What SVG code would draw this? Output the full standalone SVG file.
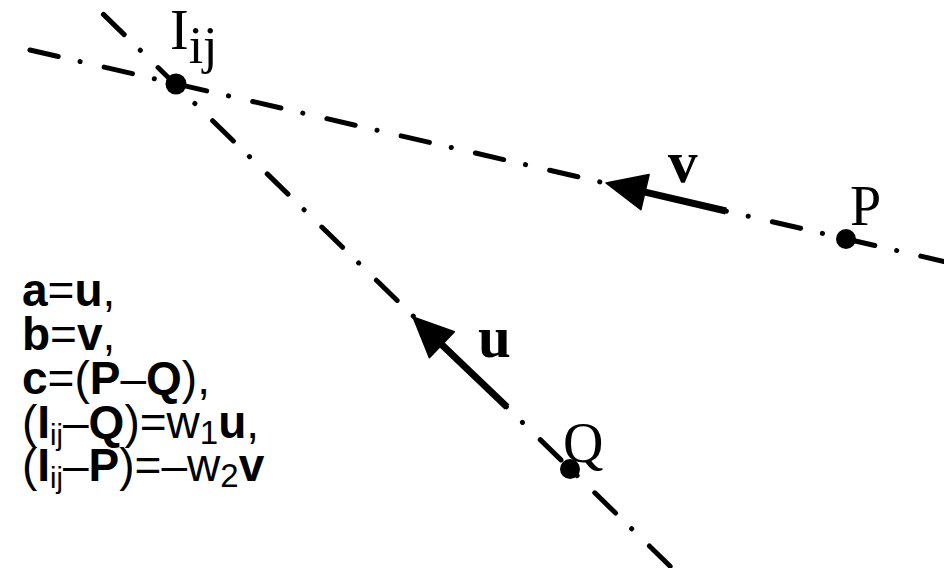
<svg xmlns="http://www.w3.org/2000/svg" width="944" height="568" viewBox="0 0 944 568">
<style>
.ln{fill:none;stroke:#000;stroke-width:5;stroke-linecap:round;stroke-dasharray:29 22.4 0.1 24.7;stroke-dashoffset:-2}
.vec{fill:none;stroke:#000;stroke-width:7;stroke-linecap:butt}
.head{fill:#000;stroke:#000;stroke-width:1.5;stroke-linejoin:round}
.dot{fill:#000}
.lbl{font-family:"Liberation Serif","Times New Roman",serif;font-size:56px;fill:#000}
.blbl{font-family:"Liberation Serif","Times New Roman",serif;font-size:59px;font-weight:bold;fill:#000}
.eq{font-family:"Liberation Sans",Arial,sans-serif;font-size:46px;fill:#000}
.b{font-weight:bold}
</style>
<rect width="944" height="568" fill="#fff"/>
<g id="connectors">
<path class="ln" d="M28,49.5 L944,261.5"/>
<path class="ln" d="M102,13 L672,568"/>
<g id="arrow-v">
<line class="vec" x1="726" y1="211" x2="643" y2="191.6"/>
<polygon class="head" points="606,183 649.1,174.6 640.9,209.7"/>
</g>
<g id="arrow-u">
<line class="vec" x1="507" y1="407" x2="440" y2="343"/>
<polygon class="head" points="413,317 454.4,331.7 429.4,357.7"/>
</g>
</g>
<g id="node-I">
<circle class="dot" cx="176" cy="84" r="10.5"/>
<text class="lbl" x="170" y="49">I<tspan font-size="52" dy="14">ij</tspan></text>
</g>
<g id="node-P">
<circle class="dot" cx="846" cy="239" r="10"/>
<text class="lbl" x="850" y="225">P</text>
</g>
<g id="node-Q">
<circle class="dot" cx="570" cy="469" r="10"/>
<text class="lbl" x="563" y="462">Q</text>
</g>
<g id="label-v"><text class="blbl" x="668" y="182">v</text></g>
<g id="label-u"><text class="blbl" x="478" y="357">u</text></g>
<g id="equations">
<text class="eq" x="22" y="306"><tspan class="b">a</tspan>=<tspan class="b">u</tspan>,</text>
<text class="eq" x="22" y="350"><tspan class="b">b</tspan>=<tspan class="b">v</tspan>,</text>
<text class="eq" x="22" y="394"><tspan class="b">c</tspan>=(<tspan class="b">P</tspan>–<tspan class="b">Q</tspan>),</text>
<text class="eq" x="22" y="438">(<tspan class="b">I</tspan><tspan font-size="29" dy="7">ij</tspan><tspan dy="-7">–</tspan><tspan class="b">Q</tspan>)=w<tspan font-size="33" dy="6">1</tspan><tspan class="b" dy="-6">u</tspan>,</text>
<text class="eq" x="22" y="481">(<tspan class="b">I</tspan><tspan font-size="29" dy="7">ij</tspan><tspan dy="-7">–</tspan><tspan class="b">P</tspan>)=–w<tspan font-size="33" dy="6">2</tspan><tspan class="b" dy="-6">v</tspan></text>
</g>
</svg>
